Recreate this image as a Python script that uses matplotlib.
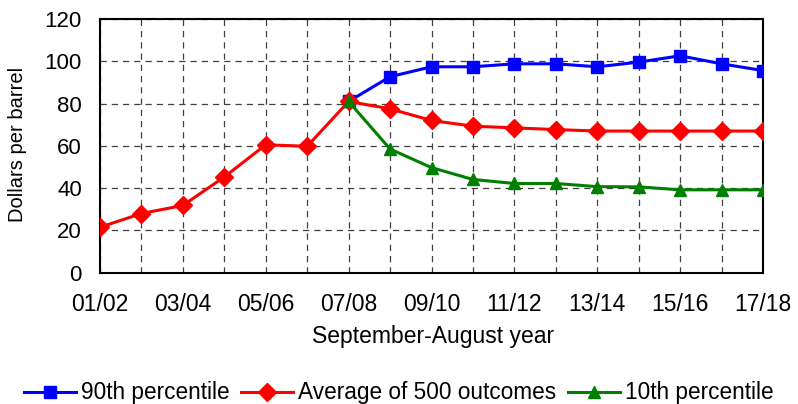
import matplotlib
matplotlib.use("Agg")
import matplotlib.pyplot as plt
import numpy as np

years = ["01/02", "02/03", "03/04", "04/05", "05/06", "06/07", "07/08", "08/09", "09/10",
         "10/11", "11/12", "12/13", "13/14", "14/15", "15/16", "16/17", "17/18"]
average = [21.5, 28, 31.8, 45.3, 60.5, 59.8, 81, 77.5, 72, 69.3, 68.5, 67.7, 67, 67, 67, 67, 67]
p90 = [None] * 6 + [81, 92.7, 97.4, 97.4, 98.8, 98.8, 97.4, 99.6, 102.6, 98.8, 95.6]
p10 = [None] * 6 + [81, 58.5, 49.7, 44.1, 42.2, 42.2, 40.7, 40.6, 39.2, 39.2, 39.2]
yticks = [0, 20, 40, 60, 80, 100, 120]

plt.rcParams['font.family'] = ['Liberation Sans', 'DejaVu Sans']

W, H = 798, 404
fig = plt.figure(figsize=(W / 100, H / 100), dpi=100)
left, right, top, bottom = 100, 763, 19, 272.7
ax = fig.add_axes([left / W, 1 - bottom / H, (right - left) / W, (bottom - top) / H])

x = np.arange(len(years))
p90a = np.array([np.nan if v is None else v for v in p90], dtype=float)
p10a = np.array([np.nan if v is None else v for v in p10], dtype=float)

ax.plot(x, p90a, color='#0000ff', lw=2.2, marker='s', ms=9, label='90th percentile', zorder=3)
ax.plot(x, average, color='#ff0000', lw=2.2, marker='D', ms=8.7, label='Average of 500 outcomes', zorder=4)
ax.plot(x, p10a, color='#008000', lw=2.2, marker='^', ms=9, label='10th percentile', zorder=5)

ax.set_xlim(0, len(years) - 1)
ax.set_ylim(0, 120)
ax.set_yticks(yticks)
ax.set_xticks(x)
ax.set_xticklabels([lab if i % 2 == 0 else '' for i, lab in enumerate(years)])
ax.tick_params(axis='both', length=0)
ax.tick_params(axis='y', labelsize=16, pad=13)
ax.tick_params(axis='x', labelsize=16.5, pad=14.5)
ax.grid(True, color='#404040', linestyle=(0, (5, 4)), linewidth=0.9)
ax.set_axisbelow(True)
for s in ax.spines.values():
    s.set_linewidth(1.5)
    s.set_color('black')
for lbl in ax.get_xticklabels():
    lbl.set_clip_on(False)

fig.text(17.5 / W, 1 - 144 / H, 'Dollars per barrel', rotation=90, ha='center', va='center', fontsize=14.5)
fig.text(433.5 / W, 1 - 337 / H, 'September-August year', ha='center', va='center', fontsize=16.5)

fig.legend(loc='center', bbox_to_anchor=(399 / W, 1 - 393 / H), ncol=3, frameon=False,
           fontsize=16.3, handlelength=2.3, columnspacing=0.5, handletextpad=0.22,
           borderpad=0, borderaxespad=0)

fig.savefig('out.png', dpi=100)
